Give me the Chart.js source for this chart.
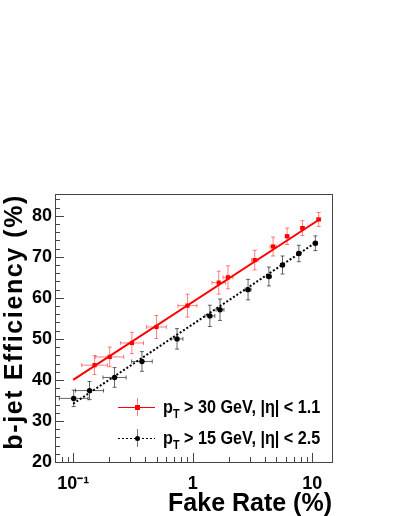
<!DOCTYPE html>
<html lang="en">
<head>
    <meta charset="UTF-8">
    <title>b-jet Efficiency vs Fake Rate</title>
    <script src="https://cdn.jsdelivr.net/npm/chart.js"></script>
    <style>
        html, body {
            margin: 0;
            padding: 0;
            background: white;
        }
        #wrap {
            position: relative;
            width: 399px;
            height: 516px;
        }
    </style>
</head>
<body>
    <div id="wrap">
        <canvas id="effChart"></canvas>
    </div>

    <script>
        // pT > 30 GeV, |eta| < 1.1
        let redX = [0.151, 0.202, 0.31, 0.497, 0.903, 1.65, 1.97, 3.30, 4.70, 6.15, 8.27, 11.3];
        let redY = [43.6, 45.6, 49.0, 52.9, 58.1, 63.7, 65.0, 69.2, 72.5, 75.0, 77.0, 79.1];
        let redXErr = [0.28, 0.31, 0.25, 0.21, 0.2, 0.14, 0.1, 0.065, 0.06, 0.04, 0.04, 0.04];
        let redYErr = [2.3, 2.4, 2.6, 2.8, 2.8, 2.8, 2.8, 2.4, 2.3, 2.0, 1.8, 1.7];
        let redFitX = [0.1, 11.6];
        let redFitY = [40.0, 79.2];

        // pT > 15 GeV, |eta| < 2.5
        let blackX = [0.101, 0.137, 0.222, 0.376, 0.739, 1.39, 1.69, 2.90, 4.33, 5.63, 7.71, 10.6];
        let blackY = [35.5, 37.4, 40.6, 44.5, 50.0, 55.6, 57.1, 62.0, 65.2, 68.0, 70.8, 73.3];
        let blackXErr = [0.32, 0.31, 0.25, 0.22, 0.12, 0.1, 0.08, 0.06, 0.05, 0.04, 0.04, 0.04];
        let blackYErr = [2.0, 2.2, 2.4, 2.4, 2.5, 2.6, 2.6, 2.5, 2.3, 2.2, 2.0, 1.8];
        let blackFitX = [0.1, 10.7];
        let blackFitY = [34.2, 73.5];

        let xMin = 0.0705, xMax = 14.6;
        let yMin = 20, yMax = 85.3;
        let yTickVals = [];
        for (let v = 20; v <= 84; v += 2) yTickVals.push(v);
        let xTickVals = [0.08, 0.09];
        [0.1, 1].forEach(d => { for (let k = 1; k <= 9; k++) xTickVals.push(+(k * d).toPrecision(3)); });
        xTickVals.push(10);
        let xLabels = { "0.1": "10\u207B\u00B9", "1": "1", "10": "10" };
        let yTitle = "b-jet Efficiency (%)";

        let legendItems = [
            { color: "#ff0000", errColor: "rgba(255,0,0,0.5)", dash: [], style: "rect", text: " > 30 GeV, |\u03B7| < 1.1" },
            { color: "#000000", errColor: "rgba(0,0,0,0.55)", dash: [2, 2], style: "circle", text: " > 15 GeV, |\u03B7| < 2.5" }
        ];

        function pts(xs, ys) {
            return xs.map((x, i) => ({ x: x, y: ys[i] }));
        }

        // error bars with small end caps, drawn below the markers
        const errorBars = {
            id: 'errorBars',
            beforeDatasetsDraw(chart) {
                const ctx = chart.ctx, xs = chart.scales.x, ys = chart.scales.y;
                const sets = [
                    [redX, redY, redXErr, redYErr, "rgba(255,0,0,0.5)"],
                    [blackX, blackY, blackXErr, blackYErr, "rgba(0,0,0,0.6)"]
                ];
                ctx.save();
                ctx.lineWidth = 1;
                sets.forEach(([X, Y, EX, EY, col]) => {
                    ctx.strokeStyle = col;
                    X.forEach((x, i) => {
                        const px = xs.getPixelForValue(x), py = ys.getPixelForValue(Y[i]);
                        const x0 = xs.getPixelForValue(x / (1 + EX[i])), x1 = xs.getPixelForValue(x * (1 + EX[i]));
                        const y0 = ys.getPixelForValue(Y[i] - EY[i]), y1 = ys.getPixelForValue(Y[i] + EY[i]);
                        ctx.beginPath();
                        ctx.moveTo(x0, py); ctx.lineTo(x1, py);
                        ctx.moveTo(px, y0); ctx.lineTo(px, y1);
                        ctx.moveTo(x0, py - 2); ctx.lineTo(x0, py + 2);
                        ctx.moveTo(x1, py - 2); ctx.lineTo(x1, py + 2);
                        ctx.moveTo(px - 2, y0); ctx.lineTo(px + 2, y0);
                        ctx.moveTo(px - 2, y1); ctx.lineTo(px + 2, y1);
                        ctx.stroke();
                    });
                });
                ctx.restore();
            }
        };

        // ROOT style frame with ticks on the inside, plus the y title
        const frameTicks = {
            id: 'frameTicks',
            afterDraw(chart) {
                const ctx = chart.ctx, a = chart.chartArea;
                const xs = chart.scales.x, ys = chart.scales.y;
                ctx.save();
                ctx.strokeStyle = "#444";
                ctx.lineWidth = 1;
                ctx.strokeRect(a.left + 0.5, a.top + 0.5, a.right - a.left, a.bottom - a.top);
                ctx.beginPath();
                ys.ticks.forEach(t => {
                    const py = Math.round(ys.getPixelForValue(t.value)) + 0.5;
                    const len = t.value % 10 === 0 ? 9 : 5;
                    ctx.moveTo(a.left, py); ctx.lineTo(a.left + len, py);
                });
                xs.ticks.forEach(t => {
                    const px = Math.round(xs.getPixelForValue(t.value)) + 0.5;
                    const len = xLabels[String(t.value)] ? 9 : 5;
                    ctx.moveTo(px, a.bottom); ctx.lineTo(px, a.bottom - len);
                });
                ctx.stroke();

                // rotated y title, right aligned to the top of the frame
                ctx.translate(22, a.top);
                ctx.rotate(-Math.PI / 2);
                ctx.fillStyle = "#000";
                ctx.font = "bold 25px 'Liberation Sans', Arial, sans-serif";
                ctx.letterSpacing = "1.6px";
                ctx.textAlign = "right";
                ctx.textBaseline = "alphabetic";
                ctx.fillText(yTitle, 0, 0);
                ctx.restore();
            }
        };

        // legend with subscript, drawn by hand
        const legendBox = {
            id: 'legendBox',
            afterDraw(chart) {
                const ctx = chart.ctx;
                ctx.save();
                legendItems.forEach((it, i) => {
                    const cy = 407 + i * 31;
                    ctx.strokeStyle = it.color;
                    ctx.lineWidth = 1;
                    ctx.setLineDash(it.dash);
                    ctx.beginPath();
                    ctx.moveTo(118, cy + 0.5); ctx.lineTo(155, cy + 0.5);
                    ctx.stroke();
                    ctx.setLineDash([]);
                    ctx.strokeStyle = it.errColor;
                    ctx.beginPath();
                    ctx.moveTo(137.5, cy - 9); ctx.lineTo(137.5, cy + 9);
                    ctx.stroke();
                    ctx.fillStyle = it.color;
                    ctx.beginPath();
                    if (it.style === "rect") ctx.rect(135, cy - 2, 5, 5);
                    else ctx.arc(137.5, cy + 0.5, 2.5, 0, Math.PI * 2);
                    ctx.fill();

                    ctx.save();
                    ctx.translate(163, cy + 6);
                    ctx.scale(0.9, 1);
                    ctx.fillStyle = "#000";
                    ctx.textBaseline = "alphabetic";
                    ctx.font = "bold 18px 'Liberation Sans', Arial, sans-serif";
                    ctx.fillText("p", 0, 0);
                    let w = ctx.measureText("p").width;
                    ctx.font = "bold 12px 'Liberation Sans', Arial, sans-serif";
                    ctx.fillText("T", w, 5);
                    w += ctx.measureText("T").width;
                    ctx.font = "bold 18px 'Liberation Sans', Arial, sans-serif";
                    ctx.fillText(it.text, w, 0);
                    ctx.restore();
                });
                ctx.restore();
            }
        };

        const tickFont = { family: "'Liberation Sans', Arial, sans-serif", size: 18, weight: "bold" };
        const titleFont = { family: "'Liberation Sans', Arial, sans-serif", size: 25, weight: "bold", lineHeight: 1 };

        new Chart(document.getElementById("effChart"), {
            type: 'scatter',
            data: {
                datasets: [
                    {
                        type: 'line',
                        data: pts(redFitX, redFitY),
                        borderColor: "#ff0000",
                        borderWidth: 2,
                        pointRadius: 0,
                        fill: false
                    },
                    {
                        type: 'line',
                        data: pts(blackFitX, blackFitY),
                        borderColor: "#000000",
                        borderWidth: 2,
                        borderDash: [2, 2],
                        pointRadius: 0,
                        fill: false
                    },
                    {
                        data: pts(redX, redY),
                        pointStyle: 'rect',
                        pointRadius: 3,
                        backgroundColor: "#ff0000",
                        borderColor: "#ff0000",
                        borderWidth: 0
                    },
                    {
                        data: pts(blackX, blackY),
                        pointStyle: 'circle',
                        pointRadius: 2.7,
                        backgroundColor: "#000000",
                        borderColor: "#000000",
                        borderWidth: 0
                    }
                ]
            },
            options: {
                responsive: true,
                maintainAspectRatio: false,
                animation: false,
                layout: { padding: { top: 194, right: 67, left: 0, bottom: 0 } },
                plugins: {
                    legend: { display: false },
                    tooltip: { enabled: false }
                },
                scales: {
                    x: {
                        type: 'logarithmic',
                        min: xMin,
                        max: xMax,
                        afterBuildTicks: s => { s.ticks = xTickVals.map(v => ({ value: v })); },
                        afterFit: s => { s.height = 54; },
                        grid: { display: false, drawTicks: false },
                        border: { display: false },
                        ticks: {
                            autoSkip: false,
                            maxRotation: 0,
                            padding: 11,
                            color: "#000",
                            font: tickFont,
                            callback: v => xLabels[String(v)] || ""
                        },
                        title: {
                            display: true,
                            text: "Fake Rate (%)",
                            align: 'end',
                            color: "#000",
                            font: titleFont,
                            padding: { top: 0, bottom: -1 }
                        }
                    },
                    y: {
                        min: yMin,
                        max: yMax,
                        afterBuildTicks: s => { s.ticks = yTickVals.map(v => ({ value: v })); },
                        afterFit: s => { s.width = 55; },
                        grid: { display: false, drawTicks: false },
                        border: { display: false },
                        ticks: {
                            autoSkip: false,
                            padding: 3,
                            color: "#000",
                            font: tickFont,
                            callback: v => (v % 10 === 0 ? String(v) : "")
                        }
                    }
                }
            },
            plugins: [errorBars, frameTicks, legendBox]
        });
    </script>
</body>
</html>
